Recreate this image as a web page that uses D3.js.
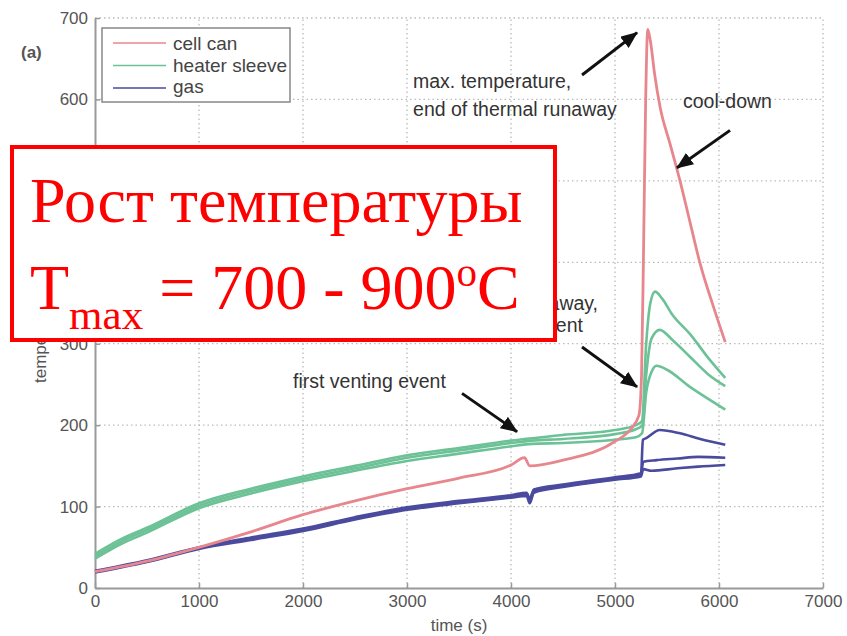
<!DOCTYPE html>
<html>
<head>
<meta charset="utf-8">
<style>
  body { margin: 0; background: #fff; }
</style>
</head>
<body>
<div id="graph"></div>
<script src="https://d3js.org/d3.v7.min.js"></script>
<script>
// data: [time (s), temperature (°C)]
const timeTicks = [0, 1000, 2000, 3000, 4000, 5000, 6000, 7000];
const tempTicks = [0, 100, 200, 300, 400, 500, 600, 700];

const cellCan = [[0,20],[500,33],[1000,50],[1500,69],[2000,90],[2500,107],[3000,122],[3500,135],[4000,151],
  [4130,160],[4180,150],[4500,157],[5000,180],[5150,195],[5230,212],[5255,260],[5275,420],[5295,600],[5315,686],
  [5340,672],[5380,632],[5433,591],[5530,545],[5625,500],[5720,450],[5817,399],[5940,348],[6060,302]];

const heater1 = [[0,42],[250,60],[500,74],[1000,104],[1500,122],[2000,137],[2500,150],[3000,163],[3500,172],
  [4000,181],[4500,188],[5000,194],[5200,200],[5260,205],[5300,300],[5340,350],[5385,364],[5450,356],
  [5550,336],[5720,312],[5900,282],[6060,258]];
const heater2 = [[0,39],[250,57],[500,71],[1000,101],[1500,119],[2000,134],[2500,147],[3000,160],[3500,169],
  [4000,178],[4200,181],[4500,183],[5000,189],[5200,195],[5260,199],[5300,262],[5350,306],[5430,317],
  [5550,305],[5720,284],[5900,262],[6060,248]];
const heater3 = [[0,36],[250,54],[500,68],[1000,98],[1500,116],[2000,131],[2500,144],[3000,156],[3500,165],
  [4000,174],[4200,177],[4500,178],[5000,182],[5200,185],[5260,190],[5300,240],[5350,265],[5400,273],
  [5500,268],[5720,247],[5900,232],[6060,219]];

const gas1 = [[0,20],[500,33],[1000,49],[1500,61],[2000,71],[2500,85],[3000,97],[3500,105],[4000,112],
  [4150,115],[4180,107],[4220,119],[4500,125],[5000,134],[5250,139],[5268,182],[5300,184],[5430,194],
  [5625,190],[5820,183],[6060,176]];
const gas2 = [[0,21],[500,34],[1000,50],[1500,62],[2000,73],[2500,87],[3000,99],[3500,107],[4000,114],
  [4150,117],[4180,110],[4220,121],[4500,127],[5000,136],[5250,141],[5272,155],[5400,157],[5600,159],
  [5800,161],[6060,160]];
const gas3 = [[0,19],[500,32],[1000,48],[1500,59],[2000,70],[2500,84],[3000,96],[3500,104],[4000,111],
  [4150,113],[4180,104],[4220,117],[4500,124],[5000,133],[5250,137],[5272,146],[5350,144],[5600,147],
  [5800,149],[6060,151]];

const seriesNames = ["cell can", "heater sleeve", "gas"];
const seriesColors = ["#e8868e", "#6cc296", "#4a4a9e"];

// annotation texts, placed in data units
const notes = [
  { t: 3058, T: 614, anchor: "start", text: "max. temperature," },
  { t: 3058, T: 580, anchor: "start", text: "end of thermal runaway" },
  { t: 5654, T: 589, anchor: "start", text: "cool-down" },
  { t: 4837, T: 341, anchor: "end", text: "onset of thermal runaway," },
  { t: 4692, T: 314, anchor: "end", text: "second venting event" },
  { t: 1904, T: 246, anchor: "start", text: "first venting event" }
];
const arrows = [
  { from: [4683, 630], to: [5212, 682] },
  { from: [6106, 562], to: [5596, 516] },
  { from: [4683, 296], to: [5212, 247] },
  { from: [3529, 239], to: [4058, 192] }
];

const sans = "'Liberation Sans', Arial, Helvetica, sans-serif";
const serif = "'Liberation Serif', 'Times New Roman', serif";

const W = 847, H = 636;
const x = d3.scaleLinear().domain([0, 7000]).range([95, 823]);
const y = d3.scaleLinear().domain([0, 700]).range([588, 18]);

const svg = d3.select("#graph").append("svg")
  .attr("width", W).attr("height", H)
  .style("font-family", sans);

svg.append("defs").append("marker")
  .attr("id", "head")
  .attr("markerUnits", "userSpaceOnUse")
  .attr("markerWidth", 17).attr("markerHeight", 14)
  .attr("refX", 16).attr("refY", 7)
  .attr("orient", "auto")
  .append("path").attr("d", "M0,0 L17,7 L0,14 Z").attr("fill", "#111");

// dotted grid
svg.append("g").selectAll("line").data(timeTicks.slice(1)).join("line")
  .attr("x1", d => x(d)).attr("x2", d => x(d))
  .attr("y1", y(0)).attr("y2", y(700))
  .attr("stroke", "#bbb").attr("stroke-width", 1.3).attr("stroke-dasharray", "1.5,3");
svg.append("g").selectAll("line").data(tempTicks.slice(1)).join("line")
  .attr("x1", x(0)).attr("x2", x(7000))
  .attr("y1", d => y(d)).attr("y2", d => y(d))
  .attr("stroke", "#bbb").attr("stroke-width", 1.3).attr("stroke-dasharray", "1.5,3");

// axes
const xAxis = svg.append("g").attr("transform", `translate(0,${y(0)})`)
  .call(d3.axisBottom(x).tickValues(timeTicks).tickFormat(d3.format("d"))
    .tickSizeInner(-5).tickSizeOuter(0).tickPadding(7));
const yAxis = svg.append("g").attr("transform", `translate(${x(0)},0)`)
  .call(d3.axisLeft(y).tickValues(tempTicks).tickFormat(d3.format("d"))
    .tickSizeInner(-5).tickSizeOuter(0).tickPadding(7));
[xAxis, yAxis].forEach(g => {
  g.select(".domain").attr("stroke", "#999").attr("stroke-width", 2);
  g.selectAll(".tick line").attr("stroke", "#999").attr("stroke-width", 1.5);
  g.selectAll(".tick text").attr("fill", "#555").attr("font-size", 17)
    .style("font-family", sans);
});

svg.append("text").attr("x", x(3500)).attr("y", 631)
  .attr("text-anchor", "middle").attr("font-size", 17).attr("fill", "#555").text("time (s)");
svg.append("text").attr("transform", "translate(46,383) rotate(-90)")
  .attr("font-size", 17).attr("fill", "#555").text("temperature (°C)");
svg.append("text").attr("x", 21).attr("y", 58).attr("font-size", 17).attr("font-weight", "bold")
  .attr("fill", "#555").text("(a)");

// series
const line = d3.line().curve(d3.curveMonotoneX).x(d => x(d[0])).y(d => y(d[1]));
const plot = svg.append("g");
[heater1, heater2, heater3].forEach(s => plot.append("path").datum(s).attr("d", line)
  .attr("fill", "none").attr("stroke", seriesColors[1]).attr("stroke-width", 2.6).attr("stroke-linejoin", "round"));
[gas1, gas2, gas3].forEach(s => plot.append("path").datum(s).attr("d", line)
  .attr("fill", "none").attr("stroke", seriesColors[2]).attr("stroke-width", 2.6).attr("stroke-linejoin", "round"));
plot.append("path").datum(cellCan).attr("d", line)
  .attr("fill", "none").attr("stroke", seriesColors[0]).attr("stroke-width", 2.8).attr("stroke-linejoin", "round");

// annotations
svg.append("g").selectAll("text").data(notes).join("text")
  .attr("x", d => x(d.t)).attr("y", d => y(d.T))
  .attr("text-anchor", d => d.anchor)
  .attr("font-size", 19.5).attr("fill", "#333")
  .text(d => d.text);
svg.append("g").selectAll("line").data(arrows).join("line")
  .attr("x1", d => x(d.from[0])).attr("y1", d => y(d.from[1]))
  .attr("x2", d => x(d.to[0])).attr("y2", d => y(d.to[1]))
  .attr("stroke", "#111").attr("stroke-width", 3).attr("marker-end", "url(#head)");

// legend
const lg = svg.append("g");
lg.append("rect").attr("x", 102).attr("y", 28).attr("width", 188).attr("height", 74)
  .attr("fill", "#fff").attr("stroke", "#888").attr("stroke-width", 1.5);
seriesNames.forEach((name, i) => {
  lg.append("line").attr("x1", 113).attr("x2", 166).attr("y1", 43 + i * 22.5).attr("y2", 43 + i * 22.5)
    .attr("stroke", seriesColors[i]).attr("stroke-width", 1.5);
  lg.append("text").attr("x", 173).attr("y", 50 + i * 21.5).attr("font-size", 19).attr("fill", "#444").text(name);
});

// red overlay box
const box = svg.append("g").style("font-family", serif);
box.append("rect").attr("x", 12).attr("y", 147).attr("width", 543).attr("height", 193)
  .attr("fill", "#fff").attr("stroke", "#ff0000").attr("stroke-width", 4);
box.append("text").attr("x", 30).attr("y", 222).attr("font-size", 64)
  .attr("fill", "#ff0000").text("Рост температуры");
const t2 = box.append("text").attr("x", 30).attr("y", 309)
  .attr("font-size", 64).attr("fill", "#ff0000");
t2.append("tspan").text("T");
t2.append("tspan").attr("font-size", 43).attr("dy", 20).text("max");
t2.append("tspan").attr("dy", -20).text(" = 700 - 900");
t2.append("tspan").attr("font-size", 41).attr("dy", -23).text("o");
t2.append("tspan").attr("dy", 23).text("C");
</script>
</body>
</html>
